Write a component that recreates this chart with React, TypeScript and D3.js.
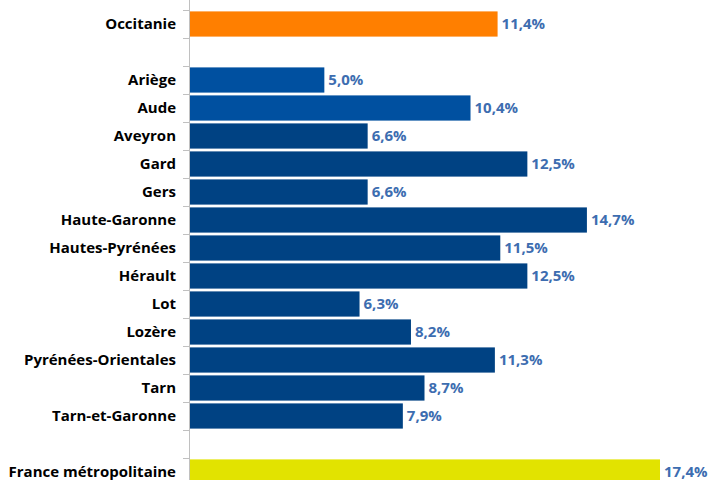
import React, { useEffect, useRef } from 'react';
import * as d3 from 'd3';

// rows in display order; empty strings are spacer rows
const categories = [
  'Occitanie', '',
  'Ariège', 'Aude', 'Aveyron', 'Gard', 'Gers', 'Haute-Garonne', 'Hautes-Pyrénées',
  'Hérault', 'Lot', 'Lozère', 'Pyrénées-Orientales', 'Tarn', 'Tarn-et-Garonne',
  ' ', 'France métropolitaine',
];
const values: (number | null)[] = [
  11.4, null,
  5.0, 10.4, 6.6, 12.5, 6.6, 14.7, 11.5, 12.5, 6.3, 8.2, 11.3, 8.7, 7.9,
  null, 17.4,
];
const colors = [
  '#ff7f00', '',
  '#0050a0', '#0050a0', '#004283', '#004283', '#004283', '#004283', '#004283',
  '#004283', '#004283', '#004283', '#004283', '#004283', '#004283',
  '', '#e2e300',
];

const W = 714;
const H = 480;

const App: React.FC = () => {
  const svgRef = useRef<SVGSVGElement>(null);

  useEffect(() => {
    if (!svgRef.current) return;
    const svg = d3.select(svgRef.current);
    svg.selectAll('*').remove();

    const left = 189;
    const x = d3.scaleLinear().domain([0, 17.4]).range([left, left + 471]);
    const y = d3.scaleBand<number>()
      .domain(d3.range(categories.length))
      .range([10, 10 + 28 * categories.length])
      .paddingInner(0.1)
      .paddingOuter(0.05);

    const step = y.step();
    const rows = categories.map((c, i) => ({ c, i, v: values[i], col: colors[i] }));

    // axis line + ticks
    svg.append('line')
      .attr('x1', left + 0.5).attr('x2', left + 0.5)
      .attr('y1', 0).attr('y2', H)
      .attr('stroke', '#c0c0c0').attr('stroke-width', 1);

    const tickYs = d3.range(categories.length + 1).map(i => 10 + i * step);
    svg.selectAll('.tick')
      .data(tickYs)
      .enter().append('line')
      .attr('x1', left - 6).attr('x2', left)
      .attr('y1', d => d + 0.5).attr('y2', d => d + 0.5)
      .attr('stroke', '#c0c0c0');

    const withVal = rows.filter(r => r.v !== null);

    svg.selectAll('.bar')
      .data(withVal)
      .enter().append('rect')
      .attr('x', left + 1)
      .attr('y', d => y(d.i) || 0)
      .attr('width', d => x(d.v as number) - left - 1)
      .attr('height', y.bandwidth())
      .attr('fill', d => d.col);

    svg.selectAll('.cat')
      .data(withVal)
      .enter().append('text')
      .attr('x', 176)
      .attr('y', d => (y(d.i) || 0) + y.bandwidth() / 2)
      .attr('dy', '0.36em')
      .attr('text-anchor', 'end')
      .style('font-family', '"Open Sans", sans-serif')
      .style('font-weight', 'bold')
      .style('font-size', '15px')
      .style('fill', '#000')
      .text(d => d.c);

    svg.selectAll('.val')
      .data(withVal)
      .enter().append('text')
      .attr('x', d => x(d.v as number) + 4)
      .attr('y', d => (y(d.i) || 0) + y.bandwidth() / 2)
      .attr('dy', '0.36em')
      .style('font-family', '"Open Sans", sans-serif')
      .style('font-weight', 'bold')
      .style('font-size', '15px')
      .style('fill', '#3d6db0')
      .text(d => (d.v as number).toFixed(1).replace('.', ',') + '%');
  }, []);

  return (
    <div style={{ position: 'absolute', left: 0, top: 0, width: W, height: H, background: '#fff', overflow: 'hidden' }}>
      <svg ref={svgRef} width={W} height={H}></svg>
    </div>
  );
};

export default App;
